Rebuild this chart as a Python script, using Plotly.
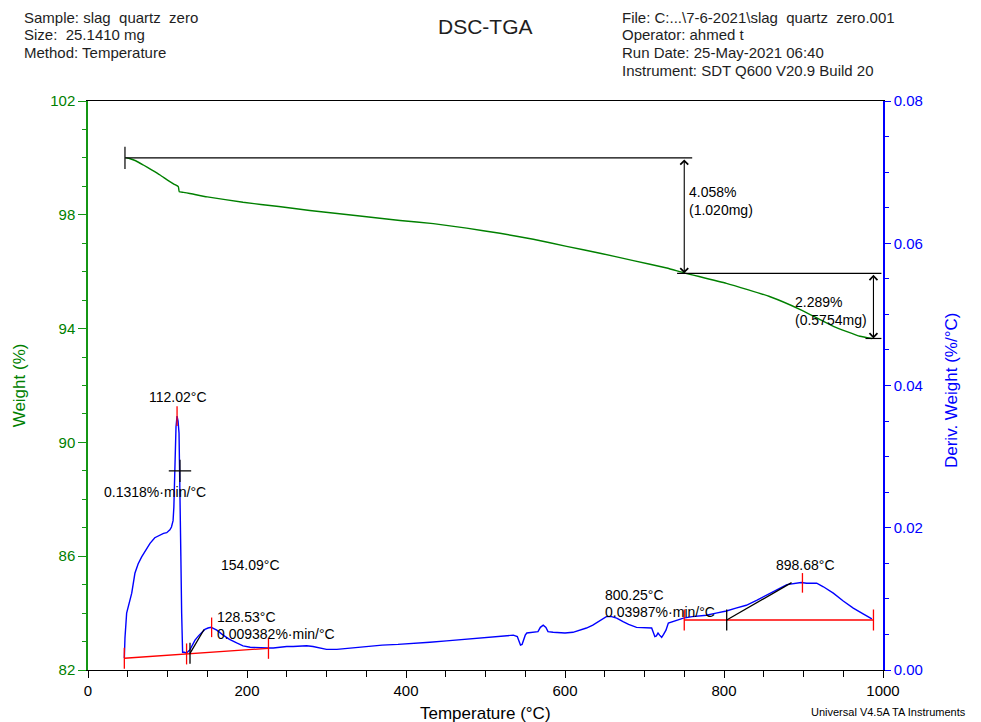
import plotly.graph_objects as go

# ---- TGA weight curve (left axis, %) ----
tga_temp = [48, 53, 60, 69.6, 80, 90.6, 100, 108, 113.6, 114.8, 120, 128, 150, 195, 240,
            279, 342, 392.5, 434.4, 476.3, 518.2, 560.1, 602, 644, 686, 728, 750, 803, 858,
            896, 937.5, 971, 986]
tga_weight = [100.0, 99.97, 99.9, 99.75, 99.58, 99.4, 99.22, 99.08, 98.99, 98.81, 98.79, 98.75,
              98.63, 98.44, 98.29, 98.15, 97.96, 97.80, 97.69, 97.53, 97.35, 97.14, 96.89, 96.65,
              96.39, 96.13, 95.96, 95.59, 95.12, 94.67, 94.08, 93.73, 93.65]

# ---- DTG derivative curve (right axis, %/°C) ----
dtg_temp = [45.7, 46.5, 48.6, 52, 55, 59, 63, 67.5, 72, 78, 84, 90.5, 95, 99, 103, 105, 107, 108,
            109.4, 110.7, 112.0, 113.3, 114.5, 115.7, 116.8, 117.8, 119, 121, 124, 128, 131, 134.6,
            139, 143, 147, 151, 155, 157, 162, 170, 178, 187, 195, 204, 216, 226, 233, 241, 250,
            258, 267, 275, 283, 292, 300, 313, 330, 346, 370, 390, 409, 430, 451, 472, 493, 515,
            535, 540, 542, 544, 546, 547.6, 550, 552, 560, 566, 569, 572.6, 576, 578.6, 585, 600,
            610, 619, 627, 635, 644, 652, 658.6, 665, 673, 680, 690, 700, 709, 711, 713, 715, 717,
            719, 721.6, 724, 727, 730, 740, 749, 760, 778, 790, 803, 815, 828, 841, 854, 867, 879,
            890, 897, 904, 910, 916.6, 925, 937.5, 950, 962.6, 975, 983.6, 986]
dtg_value = [0.0017, 0.0045, 0.008, 0.0095, 0.0108, 0.0136, 0.0149, 0.0159, 0.0168, 0.0178,
             0.0186, 0.019, 0.0192, 0.0193, 0.0197, 0.0201, 0.021, 0.0229, 0.029, 0.0342, 0.0357,
             0.035, 0.0333, 0.0267, 0.016, 0.008, 0.0025, 0.0025, 0.0024, 0.0028, 0.0035, 0.0042,
             0.0048, 0.0053, 0.0057, 0.0059, 0.006, 0.0059, 0.0056, 0.0049, 0.0043, 0.0038, 0.0034,
             0.0032, 0.0031, 0.0031, 0.0031, 0.0032, 0.0033, 0.0033, 0.0034, 0.0034, 0.0033,
             0.0031, 0.0029, 0.0029, 0.0031, 0.0033, 0.0035, 0.0036, 0.0037, 0.0039, 0.0041,
             0.0043, 0.0045, 0.0047, 0.0049, 0.0047, 0.0041, 0.0035, 0.0036, 0.0042, 0.0049,
             0.0052, 0.0053, 0.0054, 0.006, 0.0063, 0.006, 0.0054, 0.0053, 0.0052, 0.0053, 0.0056,
             0.0059, 0.0063, 0.007, 0.0075, 0.0075, 0.0073, 0.0068, 0.0064, 0.006, 0.0059, 0.0059,
             0.0053, 0.0047, 0.0048, 0.0052, 0.0049, 0.0046, 0.005, 0.0056, 0.0066, 0.007, 0.0073,
             0.0075, 0.0077, 0.008, 0.0083, 0.0087, 0.0091, 0.0098, 0.0105, 0.0113, 0.012, 0.0122,
             0.0123, 0.0122, 0.0122, 0.0122, 0.0117, 0.0108, 0.0097, 0.0087, 0.0079, 0.0073, 0.0072]

# ---- weight-step analysis ----
step_start_temp = 46.5
step_mid_temp = 750
step_end_temp = 988
weight_start = 100.0
step1_loss = 4.058      # %
step2_loss = 2.289      # %
step1_mass = "1.020mg"
step2_mass = "0.5754mg"
weight_mid = weight_start - step1_loss
weight_end = weight_mid - step2_loss

# ---- DTG peak / onset analysis ----
peak1_temp, peak1_val = 112.02, 0.0357
peak2_temp, peak2_val = 155.5, 0.0060
peak3_temp, peak3_val = 898.68, 0.01225
base1_temp = [45.7, 124, 227]
base1_val = [0.00165, 0.00226, 0.00305]
base2_temp = [750, 988]
base2_val = [0.00703, 0.00703]
infl1_temp, infl1_val = 115.7, 0.028
tangent1_temp = [128.3, 146]
tangent1_val = [0.00234, 0.0057]
tangent2_temp = [803.4, 885]
tangent2_val = [0.00703, 0.01228]

x_ticks = [0, 200, 400, 600, 800, 1000]
weight_ticks = [82, 86, 90, 94, 98, 102]
deriv_ticks = [0.00, 0.02, 0.04, 0.06, 0.08]

GREEN = "rgb(0,128,0)"
GREEN_AX = "rgb(20,150,20)"
BLUE = "rgb(0,0,255)"
RED = "rgb(255,0,0)"
FONT = "Liberation Sans, Arial, sans-serif"

fig = go.Figure()

fig.add_trace(go.Scatter(x=tga_temp, y=tga_weight, mode="lines",
                         line=dict(color=GREEN, width=1.4, shape="spline", smoothing=0.4),
                         yaxis="y"))
fig.add_trace(go.Scatter(x=dtg_temp, y=dtg_value, mode="lines",
                         line=dict(color=BLUE, width=1.4), yaxis="y2"))

# baselines with end marks
fig.add_trace(go.Scatter(x=base1_temp, y=base1_val, mode="lines+markers", yaxis="y2",
                         line=dict(color=RED, width=1.3),
                         marker=dict(symbol="line-ns", size=15, line=dict(color=RED, width=1.3))))
fig.add_trace(go.Scatter(x=base2_temp, y=base2_val, mode="lines+markers", yaxis="y2",
                         line=dict(color=RED, width=1.3),
                         marker=dict(symbol="line-ns", size=15, line=dict(color=RED, width=1.3))))
# peak marks
fig.add_trace(go.Scatter(x=[peak1_temp, peak2_temp, peak3_temp],
                         y=[peak1_val, peak2_val, peak3_val], mode="markers", yaxis="y2",
                         marker=dict(symbol="line-ns", size=14, line=dict(color=RED, width=1.3))))
# inflection cross
fig.add_trace(go.Scatter(x=[infl1_temp], y=[infl1_val], mode="markers", yaxis="y2",
                         marker=dict(symbol="cross-thin", size=16, line=dict(color="black", width=1.2))))
# onset tangents
for tx, ty in [(tangent1_temp, tangent1_val), (tangent2_temp, tangent2_val)]:
    fig.add_trace(go.Scatter(x=tx, y=ty, mode="lines", yaxis="y2",
                             line=dict(color="black", width=1.3)))
    fig.add_trace(go.Scatter(x=[tx[0]], y=[ty[0]], mode="markers", yaxis="y2",
                             marker=dict(symbol="line-ns", size=15, line=dict(color="black", width=1.3))))

# weight-step reference lines
fig.add_trace(go.Scatter(x=[step_start_temp, 760], y=[weight_start, weight_start], mode="lines",
                         line=dict(color="black", width=1.2), yaxis="y"))
fig.add_trace(go.Scatter(x=[step_start_temp], y=[weight_start], mode="markers", yaxis="y",
                         marker=dict(symbol="line-ns", size=16, line=dict(color="black", width=1.2))))
fig.add_trace(go.Scatter(x=[741, 998], y=[weight_mid, weight_mid], mode="lines",
                         line=dict(color="black", width=1.2), yaxis="y"))
fig.add_trace(go.Scatter(x=[978, 998], y=[weight_end, weight_end], mode="lines",
                         line=dict(color="black", width=1.2), yaxis="y"))

annotations = []
for tx, top, bottom in [(step_mid_temp, weight_start, weight_mid),
                        (step_end_temp, weight_mid, weight_end)]:
    annotations.append(dict(x=tx, y=bottom, ax=tx, ay=top, xref="x", yref="y",
                            axref="x", ayref="y", text="", showarrow=True,
                            arrowhead=4, startarrowhead=4, arrowside="end+start",
                            arrowsize=1.4, arrowwidth=1.1, arrowcolor="black"))


def label(text, x, y, yref="y2", anchor="left", size=14, color="black"):
    annotations.append(dict(text=text, x=x, y=y, xref="x", yref=yref, showarrow=False,
                            xanchor=anchor, yanchor="middle",
                            font=dict(family=FONT, size=size, color=color)))


label(f"{step1_loss:.3f}%", 753, 98.8, yref="y")
label(f"({step1_mass})", 753, 98.17, yref="y")
label(f"{step2_loss:.3f}%", 887, 94.93, yref="y")
label(f"({step2_mass})", 887, 94.30, yref="y")
label(f"{peak1_temp:.2f}°C", 113, 0.0384, anchor="center")
label("0.1318%·min/°C", 84, 0.0250, anchor="center")
label("154.09°C", 205, 0.01476, anchor="center")
label("128.53°C", 160, 0.00745)
label("0.009382%·min/°C", 160, 0.00506)
label("800.25°C", 648, 0.01054)
label("0.03987%·min/°C", 648, 0.00815)
label(f"{peak3_temp:.2f}°C", 902, 0.01476, anchor="center")


def paper(text, x, y, anchor="left", size=15, color="rgb(30,30,30)", angle=0, yanchor="middle"):
    annotations.append(dict(text=text, x=x, y=y, xref="paper", yref="paper", showarrow=False,
                            xanchor=anchor, yanchor=yanchor, textangle=angle,
                            font=dict(family=FONT, size=size, color=color)))


NB = "\u00a0"
left_header = [f"Sample: slag{NB}{NB}quartz{NB}{NB}zero", f"Size:{NB}{NB}25.1410 mg",
               "Method: Temperature"]
right_header = [f"File: C:...\\7-6-2021\\slag{NB}{NB}quartz{NB}{NB}zero.001", "Operator: ahmed t",
                "Run Date: 25-May-2021 06:40", "Instrument: SDT Q600 V20.9 Build 20"]
for i, t in enumerate(left_header):
    paper(t, -0.083, 1.1476 - i * 0.0316)
for i, t in enumerate(right_header):
    paper(t, 0.6692, 1.1476 - i * 0.0316)
paper("DSC-TGA", 0.4994, 1.1315, anchor="center", size=21)
paper("Weight (%)", -0.085, 0.501, anchor="center", size=17, color=GREEN, angle=-90)
paper("Deriv. Weight (%/°C)", 1.0855, 0.492, anchor="center", size=17, color=BLUE, angle=-90)
paper("Temperature (°C)", 0.4994, -0.0756, anchor="center", size=17, color="black")
paper("Universal V4.5A TA Instruments", 1.107, -0.0738, anchor="right", size=11, color="black")

fig.update_layout(
    width=981, height=722,
    margin=dict(l=88, r=98, t=101, b=52),
    paper_bgcolor="white", plot_bgcolor="white",
    showlegend=False,
    font=dict(family=FONT, size=15, color="black"),
    annotations=annotations,
    xaxis=dict(range=[0, 1000], tickvals=x_ticks, ticks="outside", ticklen=7, tickwidth=1,
               tickcolor="black", showline=True, linecolor="black", linewidth=1.2, mirror=True,
               showgrid=False, zeroline=False, tickfont=dict(size=15, color="black"),
               minor=dict(dtick=50, ticks="outside", ticklen=6, tickcolor="black")),
    yaxis=dict(range=[82, 102], tickvals=weight_ticks, ticks="outside", ticklen=8,
               tickcolor=GREEN_AX, showline=True, linecolor=GREEN_AX, linewidth=1.5,
               showgrid=False, zeroline=False, tickfont=dict(size=15, color=GREEN),
               minor=dict(dtick=1, ticks="outside", ticklen=4, tickcolor=GREEN_AX)),
    yaxis2=dict(range=[0, 0.08], tickvals=deriv_ticks, tickformat=".2f", overlaying="y",
                side="right", ticks="outside", ticklen=6, tickcolor=BLUE, showline=True,
                linecolor=BLUE, linewidth=1.5, showgrid=False, zeroline=False,
                tickfont=dict(size=15, color=BLUE),
                minor=dict(dtick=0.005, ticks="outside", ticklen=4, tickcolor=BLUE)),
)

fig.write_html("out.html")
